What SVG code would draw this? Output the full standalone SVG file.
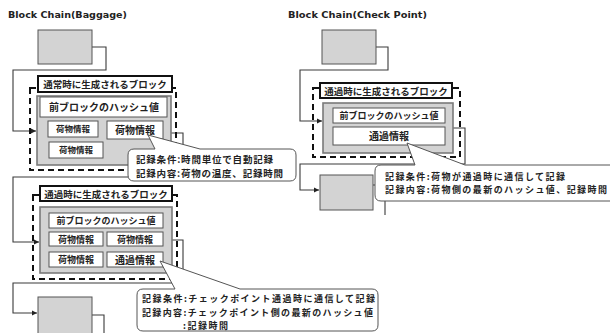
<svg xmlns="http://www.w3.org/2000/svg" width="610" height="333" viewBox="0 0 610 333">
<defs>
<marker id="arr" markerWidth="6" markerHeight="6" refX="5" refY="3" orient="auto" markerUnits="userSpaceOnUse">
<path d="M0,0.5 L5,3 L0,5.5 Z" fill="#222"/>
</marker>
<style>
.title{font-family:"DejaVu Sans","Liberation Sans",sans-serif;font-weight:bold;font-size:9px;fill:#222}
.jp{font-family:"Noto Sans CJK JP","Noto Sans",sans-serif;font-weight:bold;fill:#222}
.mid{text-anchor:middle}
.conn{fill:none;stroke:#3a3a3a;stroke-width:1.1}
.gbox{fill:#d3d3d3;stroke:#555;stroke-width:1}
.gblock{fill:#d3d3d3;stroke:#7a7a7a;stroke-width:1.6}
.wbox{fill:#fff;stroke:#555;stroke-width:1}
.label{fill:#fff;stroke:#111;stroke-width:2}
.dash{fill:none;stroke:#111;stroke-width:2;stroke-dasharray:6 4}
.callout{fill:#fff;stroke:#555;stroke-width:1}
</style>
</defs>
<rect width="610" height="333" fill="#fff"/>

<text class="title" x="8" y="18" textLength="119" lengthAdjust="spacingAndGlyphs">Block Chain(Baggage)</text>
<text class="title" x="288" y="18" textLength="139" lengthAdjust="spacingAndGlyphs">Block Chain(Check Point)</text>

<g id="connectors">
<path class="conn" d="M92,47 H106 V70 H13 V131 H36" marker-end="url(#arr)"/>
<path class="conn" d="M171,133 H183 V177 H13 V242 H39" marker-end="url(#arr)"/>
<path class="conn" d="M172,240 H183 V283 H13 V313 H37" marker-end="url(#arr)"/>
<path class="conn" d="M92,315 H104 V333"/>
<path class="conn" d="M376,47 H388 V70 H300 V121 H322" marker-end="url(#arr)"/>
<path class="conn" d="M453,128 H465 V164 H300 V190 H319" marker-end="url(#arr)"/>
<path class="conn" d="M373,185 H385 V215"/>
</g>

<g id="baggage-prev">
<rect class="gbox" x="38" y="30" width="54" height="34"/>
</g>

<g id="baggage-block1">
<rect class="dash" x="30" y="88" width="146" height="82"/>
<rect class="gblock" x="37" y="96" width="134" height="69"/>
<rect class="label" x="38" y="76" width="134" height="16"/>
<text class="jp mid" x="105" y="87.5" font-size="9.5">通常時に生成されるブロック</text>
<rect class="wbox" x="40" y="97" width="127" height="20"/>
<text class="jp mid" x="104" y="111" font-size="10">前ブロックのハッシュ値</text>
<rect class="wbox" x="48" y="121" width="50" height="16"/>
<text class="jp mid" x="73" y="132" font-size="8.5">荷物情報</text>
<rect class="wbox" x="107" y="121" width="56" height="18"/>
<text class="jp mid" x="135" y="133.5" font-size="10">荷物情報</text>
<rect class="wbox" x="49" y="142" width="54" height="16"/>
<text class="jp mid" x="76" y="153" font-size="8.5">荷物情報</text>
</g>

<g id="baggage-callout1">
<path class="callout" d="M134,149 H155 L148,135 L200,149 H290 Q296,149 296,155 V175 Q296,181 290,181 H134 Q128,181 128,175 V155 Q128,149 134,149 Z"/>
<text class="jp" x="136" y="162.5" font-size="9.5" textLength="137">記録条件:時間単位で自動記録</text>
<text class="jp" x="136" y="176.5" font-size="9.5" textLength="147">記録内容:荷物の温度、記録時間</text>
</g>

<g id="baggage-block2">
<rect class="dash" x="33" y="195" width="144" height="84"/>
<rect class="gblock" x="40" y="207" width="132" height="66"/>
<rect class="label" x="40" y="186" width="132" height="15"/>
<text class="jp mid" x="106" y="197.5" font-size="9.5">通過時に生成されるブロック</text>
<rect class="wbox" x="49" y="213" width="114" height="15"/>
<text class="jp mid" x="106" y="223.5" font-size="9">前ブロックのハッシュ値</text>
<rect class="wbox" x="49" y="232" width="54" height="14"/>
<text class="jp mid" x="76" y="242.5" font-size="9">荷物情報</text>
<rect class="wbox" x="107" y="232" width="56" height="14"/>
<text class="jp mid" x="135" y="242.5" font-size="9">荷物情報</text>
<rect class="wbox" x="49" y="252" width="54" height="15"/>
<text class="jp mid" x="76" y="263" font-size="9">荷物情報</text>
<rect class="wbox" x="107" y="252" width="56" height="15"/>
<text class="jp mid" x="135" y="263.5" font-size="10">通過情報</text>
</g>

<g id="baggage-callout2">
<path class="callout" d="M143,289 H175 L160,261 L240,289 H372 Q378,289 378,295 V325 Q378,331 372,331 H143 Q137,331 137,325 V295 Q137,289 143,289 Z"/>
<text class="jp" x="142" y="302" font-size="9" textLength="233">記録条件:チェックポイント通過時に通信して記録</text>
<text class="jp" x="142" y="315.5" font-size="9" textLength="231">記録内容:チェックポイント側の最新のハッシュ値</text>
<text class="jp" x="183" y="329" font-size="9" textLength="45">:記録時間</text>
</g>

<g id="baggage-next">
<rect class="gbox" x="38" y="297" width="54" height="40"/>
</g>

<g id="checkpoint-prev">
<rect class="gbox" x="322" y="30" width="54" height="34"/>
</g>

<g id="checkpoint-block">
<rect class="dash" x="313" y="88" width="147" height="69"/>
<rect class="gblock" x="323" y="103" width="130" height="50"/>
<rect class="label" x="320" y="83" width="132" height="15"/>
<text class="jp mid" x="386" y="94.5" font-size="9.5">通過時に生成されるブロック</text>
<rect class="wbox" x="333" y="108" width="112" height="15"/>
<text class="jp mid" x="389" y="119" font-size="9">前ブロックのハッシュ値</text>
<rect class="wbox" x="333" y="127" width="112" height="18"/>
<text class="jp mid" x="389" y="139.5" font-size="10">通過情報</text>
</g>

<g id="checkpoint-next">
<rect class="gbox" x="320" y="175" width="53" height="35"/>
</g>

<g id="checkpoint-callout">
<path class="callout" d="M381,165 H415 L407,143 L465,165 H630 V201 H381 Q375,201 375,195 V171 Q375,165 381,165 Z"/>
<text class="jp" x="385" y="179.5" font-size="9" textLength="180">記録条件:荷物が通過時に通信して記録</text>
<text class="jp" x="385" y="192.5" font-size="9" textLength="222">記録内容:荷物側の最新のハッシュ値、記録時間</text>
</g>
</svg>
